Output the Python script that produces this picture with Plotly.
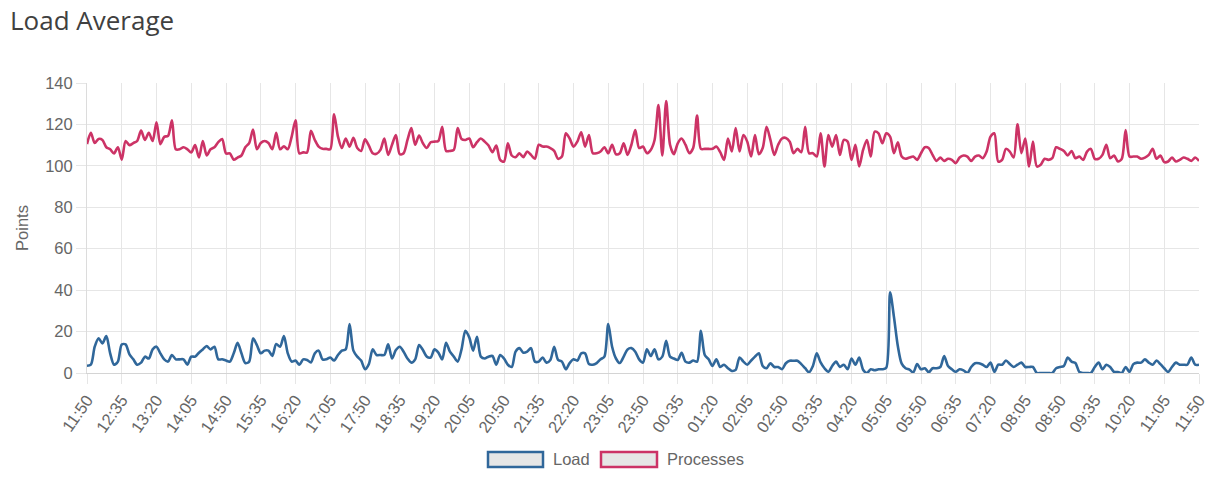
import pandas as pd
import plotly.graph_objects as go

# Données (un point toutes les 5 minutes sur 24h)
start_time = "2024-01-01 11:50"
step_minutes = 5

processes = [
    110.5, 116, 111, 113, 112.5, 109, 108, 106, 109, 103, 112, 110, 111, 112, 117, 112.5, 116, 112, 121, 110.5,
    114, 114.5, 122, 108, 108, 109, 108, 106.5, 110, 104, 112, 105, 108, 109, 111.5, 113, 106, 106, 103, 104,
    105, 109, 111, 117.5, 108, 111, 112, 111, 108, 116, 108, 109.5, 108, 114, 122, 106, 106.5, 106.5,
    116.9, 112.5, 109.3, 108.2, 108.2, 108, 124.9, 114.1, 108.6, 113.2, 109.3, 113.5, 108.6, 107.2, 112.8, 109.8,
    106.1, 105.8, 107.7, 113.2, 105.3, 110.2, 114.9, 105.6, 106.1, 112.5, 118.2, 110.2, 114.6, 110.9, 108.6, 111.4,
    111.7, 112, 118.9, 107.2, 107.2, 107.7, 118.2, 113, 112.5, 113.2, 109, 111.4, 113.2, 111.7, 109.8, 106.6,
    109.8, 102.9, 102.1, 110.9, 105, 104.2, 106.1, 104.2, 106.9, 105.3,
    103.4, 110.2, 109.3, 109.3, 108.6, 107.2, 103.4, 104.5, 115.7, 113.2, 109.3, 111.7, 116.2, 109.3, 114.9, 106.1,
    106.1, 106.9, 109, 106.1, 110.2, 105.6, 106.1, 110.9, 105.3, 110.2, 117.3, 108.6, 109.3, 106.1, 107.7, 112.5,
    129.4, 105, 131.3, 110.2, 105.6, 110.9, 113.2, 110.2, 106.1, 108.6, 124.3, 108.2, 108.2, 108.2, 108.2, 109.3,
    106.6, 102.9, 113.2, 106.9, 118.2, 106.9, 114.9, 111.7, 104.5, 114.9,
    105.6, 108.6, 118.9, 112.5, 105.3, 110.2, 113.2, 113.5, 111.7, 106.1, 108.2, 106.6, 118.9, 106.1, 106.1, 104.5,
    115.7, 99.7, 114.9, 109.3, 114.9, 105.3, 112.5, 111.7, 102.9, 110.2, 99.7, 107.7, 112.5, 104.5, 116.5, 115.7,
    110.9, 115.7, 114.1, 106.1, 111.4, 104.5, 103.4, 104, 104.5, 102.9, 106.1, 109, 108.6, 105.3, 102.4, 104,
    102.4, 103.4, 102.9, 101.3, 104, 105, 104.5, 102.4, 104.5, 105,
    103.7, 106.9, 114.1, 115.7, 102.1, 102.9, 108.2, 106.9, 104, 120.1, 106.1, 113.2, 99.7, 111.7, 99.7, 100.5,
    103.4, 102.9, 103.7, 109, 108.2, 107.2, 105, 107.2, 103.7, 104.5, 102.9, 106.9, 108.2, 103.4, 103.4, 105.3,
    110.2, 103.7, 105, 102.1, 103.4, 117.3, 104.5, 104.5, 104.5, 103.4, 104, 105.3, 108.2, 103.4, 105, 101.8,
    102.1, 104, 102.1, 102.9, 104, 103.4, 102.4, 104, 102.4,
]

load = [
    3.5, 4, 12.7, 16.7, 14.3, 17.8, 9.5, 4, 5.5, 13.8, 13.8, 9, 6.6, 4, 5, 7.9, 7, 11.4, 12.7, 9.5,
    6.6, 5.5, 8.7, 6.6, 6.6, 6.6, 4, 7.9, 7.9, 9.8, 11.4, 13, 11.4, 12.7, 6.6, 6.6, 6, 5.5, 9.5, 14.6,
    9.5, 4.8, 5.5, 16.7, 13.5, 9.5, 10.8, 10.8, 8.2, 14, 12.7, 17.8, 9.5, 5.5, 6, 4, 6.6, 6.3,
    5.1, 9.5, 10.8, 6.6, 6.6, 7.5, 6, 8.7, 10.8, 11.4, 23.6, 10.8, 7.9, 6, 1.8, 4.3, 11.4, 8.7, 8.7, 8.7,
    13.8, 7, 11.1, 12.7, 10.3, 7, 5, 6.6, 13.5, 11.1, 7.9, 7.5, 11.4, 9.8, 6.6, 14.6, 10.3, 7.9, 5.5, 11.4,
    20.4, 17.2, 10.8, 17.5, 7.9, 7, 7.9, 8.2, 4, 8.7, 7, 4, 2.9, 10.3, 12, 9.8, 10.3, 12,
    5.5, 5.5, 7.5, 5, 6.3, 12.7, 6.3, 5.5, 1.8, 4.8, 6.6, 6, 9.5, 9.5, 4.3, 4, 4.8, 6.6, 7.9, 23.6,
    12.7, 7, 4.8, 7.9, 11.4, 12, 10.3, 6.6, 5, 11.4, 8.2, 11.4, 6.6, 7.9, 15.6, 7.9, 7, 6.3, 9.8, 5.5,
    5, 6, 5.5, 20.4, 8.7, 6.6, 3.4, 6.6, 2.9, 4, 2.3, 1, 1.5, 7.5, 5.5, 4, 6, 7.9,
    9.5, 3.4, 2.3, 4.7, 2.9, 2.9, 1.8, 4.7, 5.9, 5.9, 5.9, 4.3, 2.3, 0.3, 3.4, 9.5, 5.1, 2.3, 0.6, 3.4,
    5.5, 2.9, 4, 1.8, 7, 4, 7.5, 1.6, 0, 1.8, 1.3, 1.8, 1.8, 2.5, 39, 27, 13, 4.5, 2.3, 1.6,
    0.3, 4.3, 1.8, 2.3, 0.3, 2.3, 2.3, 2.9, 8.2, 3.4, 1.8, 0.6, 1.8, 1.3, 0, 2.9, 4.7, 4.7,
    4, 2.9, 5, 0.5, 4, 4, 6, 4.3, 2.9, 4, 5, 2.9, 2.9, 2.9, 0, 0, 0, 0, 0, 2.3,
    2.9, 3.4, 7.5, 5.5, 4.8, 0.5, 0, 0, 0, 2.9, 5, 1.8, 4, 2.9, 0.5, 0.5, 0, 2.9, 0.5, 4.3,
    5, 5, 6.6, 5, 4, 6, 4.3, 2.3, 0.5, 2.9, 5, 4, 4, 4, 7.5, 4, 4,
]

series_names = ["Load", "Processes"]
series_colors = ["#30679a", "#cc3366"]

times = pd.date_range(start_time, periods=len(load), freq=f"{step_minutes}min")

# Dimensions (la marge du <body> est supprimée en post_script)
W, H = 1209, 480
ML, MR, MT, MB = 87, 10, 83, 107
font_ticks = {"family": "Liberation Sans, Arial", "size": 16.5, "color": "#666666"}
grid = "#e6e6e6"

fig = go.Figure()
for name, values, color in zip(series_names, [load, processes], series_colors):
    fig.add_trace(go.Scatter(
        x=times, y=values, name=name, mode="lines",
        line={"color": color, "width": 2.6, "shape": "spline", "smoothing": 0.8},
        showlegend=False,
    ))


# conversion pixels -> coordonnées "paper"
def px_x(px):
    return (px - ML) / (W - ML - MR)


def px_y(py):
    return (H - MB - py) / (H - MT - MB)


# Légende dessinée à la main (boîtes grises avec bordure colorée)
legend_boxes = [(488, 543, 551), (601, 657, 665)]
shapes = []
annotations = []
for (x0, x1, xt), name, color in zip(legend_boxes, series_names, series_colors):
    shapes.append(dict(
        type="rect", xref="paper", yref="paper",
        x0=px_x(x0), x1=px_x(x1), y0=px_y(467), y1=px_y(452),
        fillcolor="#e6e6e6", line={"color": color, "width": 2.5},
    ))
    annotations.append(dict(
        xref="paper", yref="paper", x=px_x(xt), y=px_y(459),
        xanchor="left", yanchor="middle", text=name, showarrow=False,
        font=font_ticks,
    ))

fig.update_layout(
    width=W, height=H,
    margin={"l": ML, "r": MR, "t": MT, "b": MB, "autoexpand": False},
    paper_bgcolor="white", plot_bgcolor="white",
    title={
        "text": "Load Average", "xref": "container", "yref": "container",
        "x": 10 / W, "xanchor": "left", "y": 1 - 21 / H, "yanchor": "middle",
        "font": {"family": "Open Sans", "size": 26, "color": "#404040"},
    },
    xaxis={
        "type": "date", "range": [times[0], times[-1]], "automargin": False,
        "tick0": times[0], "dtick": 45 * 60 * 1000, "tickformat": "%H:%M",
        "tickangle": -55, "tickfont": font_ticks, "ticklabeloverflow": "allow",
        "showgrid": True, "gridcolor": grid,
        "ticks": "outside", "ticklen": 10, "tickcolor": grid,
        "showline": True, "linecolor": "#d4d4d4", "zeroline": False,
    },
    yaxis={
        "range": [0, 140], "dtick": 20, "tickfont": font_ticks, "automargin": False,
        "title": {"text": "Points", "font": font_ticks, "standoff": 12},
        "showgrid": True, "gridcolor": grid,
        "ticks": "outside", "ticklen": 10, "tickcolor": grid,
        "showline": True, "linecolor": "#dcdcdc", "zeroline": False,
    },
    shapes=shapes,
    annotations=annotations,
    hovermode="x",
)

fig.write_html(
    "out.html",
    config={"displayModeBar": False},
    post_script="document.body.style.margin = '0'; document.body.style.overflow = 'hidden';",
)
